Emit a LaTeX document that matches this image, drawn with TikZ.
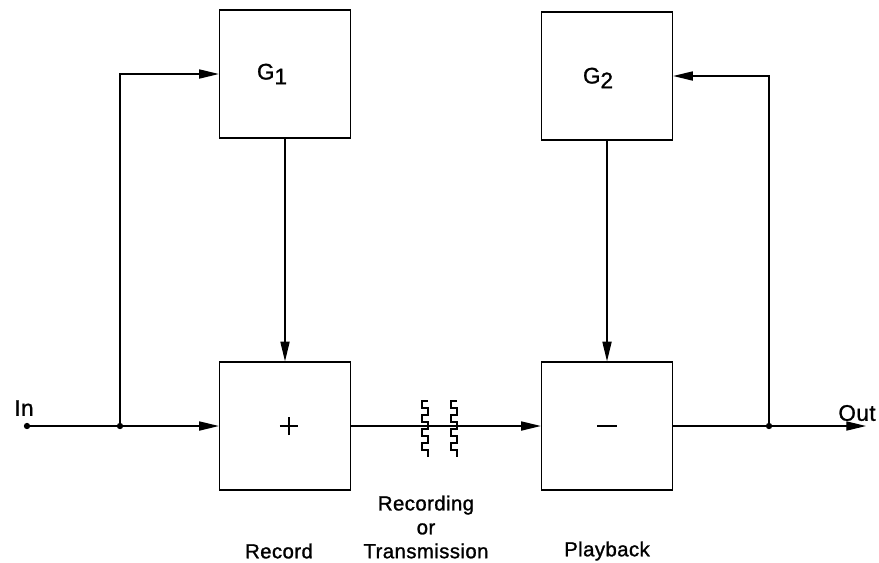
\documentclass[tikz,border=0pt]{standalone}
\usepackage{fontspec}
\newfontfamily\lettering[LetterSpace=2,FakeBold=1.2]{Liberation Sans}
\usetikzlibrary{arrows.meta}

\tikzset{
  blk/.style={draw,line width=0.9pt,minimum width=3.275cm,minimum height=3.2cm,inner sep=0pt},
  wire/.style={line width=0.9pt},
  sig/.style={wire,-{Triangle[length=14pt,width=6.5pt]}},
  lbl/.style={font=\lettering\fontsize{16}{18}\selectfont},
  captxt/.style={font=\lettering\fontsize{14.5}{17}\selectfont,align=center},
  dot/.style={circle,fill,inner sep=0pt,minimum size=4.5pt}
}

\begin{document}
\begin{tikzpicture}[x=0.025cm,y=-0.025cm]
    \useasboundingbox (0,0) rectangle (879,562);
    % the four blocks
    \node[blk] (g1) at (285,74) {};
    \node[blk] (g2) at (607,76) {};
    \node[blk] (add) at (285,426) {\rule{13pt}{1.5pt}\hspace{-7.25pt}\rule[-5.75pt]{1.5pt}{13pt}\hspace{5.75pt}};
    \node[blk] (sub) at (607,426) {\rule{14pt}{2pt}};
    \node[lbl] (g1t) at (272,74) {G\raisebox{-0.4ex}{1}};
    \node[lbl] (g2t) at (598,78) {G\raisebox{-0.4ex}{2}};
    % input side
    \node[dot] (in) at (27,426) {};
    \node[lbl] (intxt) at (24,408) {In};
    \node[dot] (split) at (120,426) {};
    \draw[wire] (in) -- (split);
    \draw[sig] (split) -- (add);
    \draw[sig] (split) |- (g1);
    \draw[sig] (g1) -- (add);
    % recording or transmission medium
    \draw[sig] (add) -- (sub);
    \foreach \c in {428,457}
    {
    \draw[wire] (\c,401)
      \foreach \k in {1,...,4} { -- ++(-6,0) -- ++(0,7) -- ++(6,0) -- ++(0,7) };
    }
    % output side
    \node[dot] (tap) at (769,426) {};
    \coordinate (out) at (866,426);
    \node[lbl] (outtxt) at (857,413) {Out};
    \draw[wire] (sub) -- (tap);
    \draw[sig] (tap) -- (out);
    \draw[sig] (tap) |- (g2);
    \draw[sig] (g2) -- (sub);
    % captions
    \node[captxt] (rec) at (279,551) {Record};
    \node[captxt] (med) at (426,527) {Recording\\or\\Transmission};
    \node[captxt] (play) at (607,551) {Playback};
\end{tikzpicture}
\end{document}
